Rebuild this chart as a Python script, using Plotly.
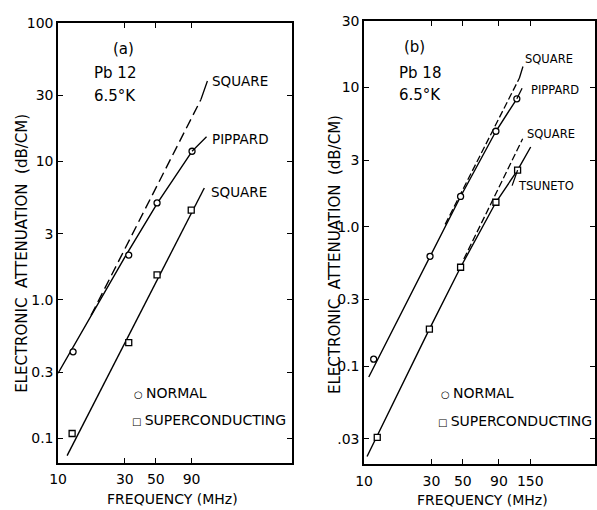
import numpy as np
import plotly.graph_objects as go

# ---------------- data (frequency in MHz, attenuation in dB/cm) ----------------
# Panel (a): Pb 12, 6.5 K
a_norm_f = [12.8, 32, 51, 90.7]
a_norm_att = [0.42, 2.1, 5.0, 11.8]
a_sup_f = [12.6, 32, 51, 89.5]
a_sup_att = [0.108, 0.49, 1.51, 4.44]
a_pippard_f = [10, 30.3, 51.4, 90.7]
a_pippard_att = [0.294, 2.06, 5.0, 11.8]
a_sqn_f = [17.2, 105]
a_sqn_att = [0.77, 27.9]
a_sqs_f = [11.6, 111]
a_sqs_att = [0.0748, 6.4]

# Panel (b): Pb 18, 6.5 K
b_norm_f = [11.7, 29.3, 48.2, 85.7, 120.5]
b_norm_att = [0.112, 0.613, 1.65, 4.85, 8.3]
b_sup_f = [12.4, 29.0, 48.2, 85.7, 122]
b_sup_att = [0.0307, 0.184, 0.512, 1.50, 2.55]
b_pippard_f = [10.8, 29.3, 48.2, 85.7, 120.5]
b_pippard_att = [0.0833, 0.613, 1.65, 4.85, 8.3]
b_sqn_f = [37.5, 125.7]
b_sqn_att = [1.04, 11.7]
b_sqs_f = [50.8, 132.5]
b_sqs_att = [0.586, 4.28]
b_tsuneto_f = [10.5, 29.0, 48.2, 85.7, 122, 151]
b_tsuneto_att = [0.0224, 0.184, 0.512, 1.50, 2.55, 3.74]

a_xticks = [10, 30, 50, 90]
b_xticks = [10, 30, 50, 90, 150]
a_yticks = [100, 30, 10, 3, 1, 0.3, 0.1]
a_ytext = ["100", "30", "10", "3", "1.0", "0.3", "0.1"]
b_yticks = [30, 10, 3, 1, 0.3, 0.1, 0.03]
b_ytext = ["30", "10", "3", "1.0", "0.3", "0.1", ".03"]

# ---------------- figure ----------------
W, H = 597, 510
FONT = "DejaVu Sans"


def px(x):
    return x / W


def py(y):
    return 1 - y / H


fig = go.Figure()

line_style = dict(color="black", width=1.4)
dash_a = dict(color="black", width=1.4, dash="10px,5px")
dash_b = dict(color="black", width=1.3, dash="7px,3px")

# panel a curves
fig.add_trace(go.Scatter(x=a_pippard_f, y=a_pippard_att, mode="lines", line=line_style,
                         showlegend=False, xaxis="x", yaxis="y"))
fig.add_trace(go.Scatter(x=a_sqn_f, y=a_sqn_att, mode="lines", line=dash_a,
                         showlegend=False, xaxis="x", yaxis="y"))
fig.add_trace(go.Scatter(x=a_sqs_f, y=a_sqs_att, mode="lines", line=line_style,
                         showlegend=False, xaxis="x", yaxis="y"))
# panel b curves
fig.add_trace(go.Scatter(x=b_pippard_f, y=b_pippard_att, mode="lines", line=line_style,
                         showlegend=False, xaxis="x2", yaxis="y2"))
fig.add_trace(go.Scatter(x=b_sqn_f, y=b_sqn_att, mode="lines", line=dash_b,
                         showlegend=False, xaxis="x2", yaxis="y2"))
fig.add_trace(go.Scatter(x=b_sqs_f, y=b_sqs_att, mode="lines", line=dash_b,
                         showlegend=False, xaxis="x2", yaxis="y2"))
fig.add_trace(go.Scatter(x=b_tsuneto_f, y=b_tsuneto_att, mode="lines", line=line_style,
                         showlegend=False, xaxis="x2", yaxis="y2"))

circ = dict(symbol="circle", size=6, color="white", line=dict(color="black", width=1.3))
sqr = dict(symbol="square", size=6, color="white", line=dict(color="black", width=1.3))

fig.add_trace(go.Scatter(x=a_norm_f, y=a_norm_att, mode="markers", marker=circ, name="NORMAL",
                         showlegend=False, xaxis="x", yaxis="y"))
fig.add_trace(go.Scatter(x=a_sup_f, y=a_sup_att, mode="markers", marker=sqr, name="SUPERCONDUCTING",
                         showlegend=False, xaxis="x", yaxis="y"))
fig.add_trace(go.Scatter(x=b_norm_f, y=b_norm_att, mode="markers", marker=circ, name="NORMAL",
                         showlegend=False, xaxis="x2", yaxis="y2"))
fig.add_trace(go.Scatter(x=b_sup_f, y=b_sup_att, mode="markers", marker=sqr, name="SUPERCONDUCTING",
                         showlegend=False, xaxis="x2", yaxis="y2"))

axis_common = dict(type="log", showgrid=False, zeroline=False, showline=True, linecolor="black",
                   linewidth=1.5, ticks="inside", ticklen=5, tickwidth=1.3, tickcolor="black",
                   mirror="ticks", tickfont=dict(family=FONT, size=14, color="black"))

fig.update_layout(
    width=W, height=H, margin=dict(l=0, r=0, t=0, b=0),
    paper_bgcolor="white", plot_bgcolor="white",
    font=dict(family=FONT, color="black"),
    showlegend=False,
    xaxis=dict(axis_common, domain=[px(50), px(288)], range=[1, 2.670], anchor="y",
               tickvals=a_xticks, ticktext=[str(v) for v in a_xticks], ticklabelstandoff=3),
    yaxis=dict(axis_common, domain=[py(462), py(15)], range=[-1.178, 2], anchor="x",
               tickvals=a_yticks, ticktext=a_ytext, ticklabelstandoff=0),
    xaxis2=dict(axis_common, domain=[px(361.7), 1.0], range=[1, 2.634], anchor="y2",
                tickvals=b_xticks, ticktext=[str(v) for v in b_xticks], ticklabelstandoff=3),
    yaxis2=dict(axis_common, domain=[py(463.3), py(13.3)], range=[-1.704, 1.477], anchor="x2",
                tickvals=b_yticks, ticktext=b_ytext, ticklabelstandoff=0),
)

ann = []


def text_paper(x, y, text, size=15, xanchor="center", angle=0):
    ann.append(dict(x=px(x), y=py(y), xref="paper", yref="paper", text=text, showarrow=False,
                    xanchor=xanchor, yanchor="middle", textangle=angle,
                    font=dict(family=FONT, size=size, color="black")))


# panel captions
text_paper(117, 42, "(a)")
text_paper(85, 66, "Pb 12", xanchor="left")
text_paper(85, 89, "6.5°K", xanchor="left")
text_paper(413, 40, "(b)")
text_paper(395, 66, "Pb 18", xanchor="left")
text_paper(395, 88, "6.5°K", xanchor="left")
# axis titles
text_paper(13, 249, "ELECTRONIC  ATTENUATION  (dB/CM)", size=15, angle=-90)
text_paper(332, 250, "ELECTRONIC  ATTENUATION  (dB/CM)", size=15, angle=-90)
text_paper(167, 499, "FREQUENCY (MHz)", size=14)
text_paper(482, 500, "FREQUENCY (MHz)", size=14)

# legends (symbol glyph + text)
SYM = '<span style="font-size:10px">%s </span>%s'
text_paper(125, 391, SYM % ("○", "NORMAL"), size=14, xanchor="left")
text_paper(123, 419, SYM % ("□", "SUPERCONDUCTING"), size=14, xanchor="left")
text_paper(438, 391, SYM % ("○", "NORMAL"), size=14, xanchor="left")
text_paper(435, 420, SYM % ("□", "SUPERCONDUCTING"), size=14, xanchor="left")


def curve_label(xr, yr, f, a, text, size, xshift, yshift, ax=None, ay=None):
    lx, ly = float(np.log10(f)), float(np.log10(a))
    if ax is not None:
        ann.append(dict(x=lx, y=ly, xref=xr, yref=yr, text="", showarrow=True, arrowhead=0,
                        arrowwidth=1.3, arrowcolor="black", ax=ax, ay=ay, standoff=0))
    ann.append(dict(x=lx, y=ly, xref=xr, yref=yr, text=text, showarrow=False,
                    xanchor="left", yanchor="middle", xshift=xshift, yshift=yshift,
                    font=dict(family=FONT, size=size, color="black")))


# panel a labels
curve_label("x", "y", a_sqn_f[-1], a_sqn_att[-1], "SQUARE", 13.5, 9, 19, ax=7, ay=-20)
curve_label("x", "y", a_norm_f[-1], a_norm_att[-1], "PIPPARD", 13.5, 18, 12, ax=16, ay=-16)
curve_label("x", "y", a_sqs_f[-1], a_sqs_att[-1], "SQUARE", 13.5, 5, -4)
# panel b labels
curve_label("x2", "y2", b_sqn_f[-1], b_sqn_att[-1], "SQUARE", 11.5, 4, 19, ax=4, ay=-13)
curve_label("x2", "y2", b_norm_f[-1], b_norm_att[-1], "PIPPARD", 11.5, 12, 9, ax=6, ay=-12)
curve_label("x2", "y2", b_sqs_f[-1], b_sqs_att[-1], "SQUARE", 11.5, 2, 5)
curve_label("x2", "y2", b_sup_f[-1], b_sup_att[-1], "TSUNETO", 11.5, -2, -16, ax=-6, ay=17)

fig.update_layout(annotations=ann)
fig.write_html("out.html")
